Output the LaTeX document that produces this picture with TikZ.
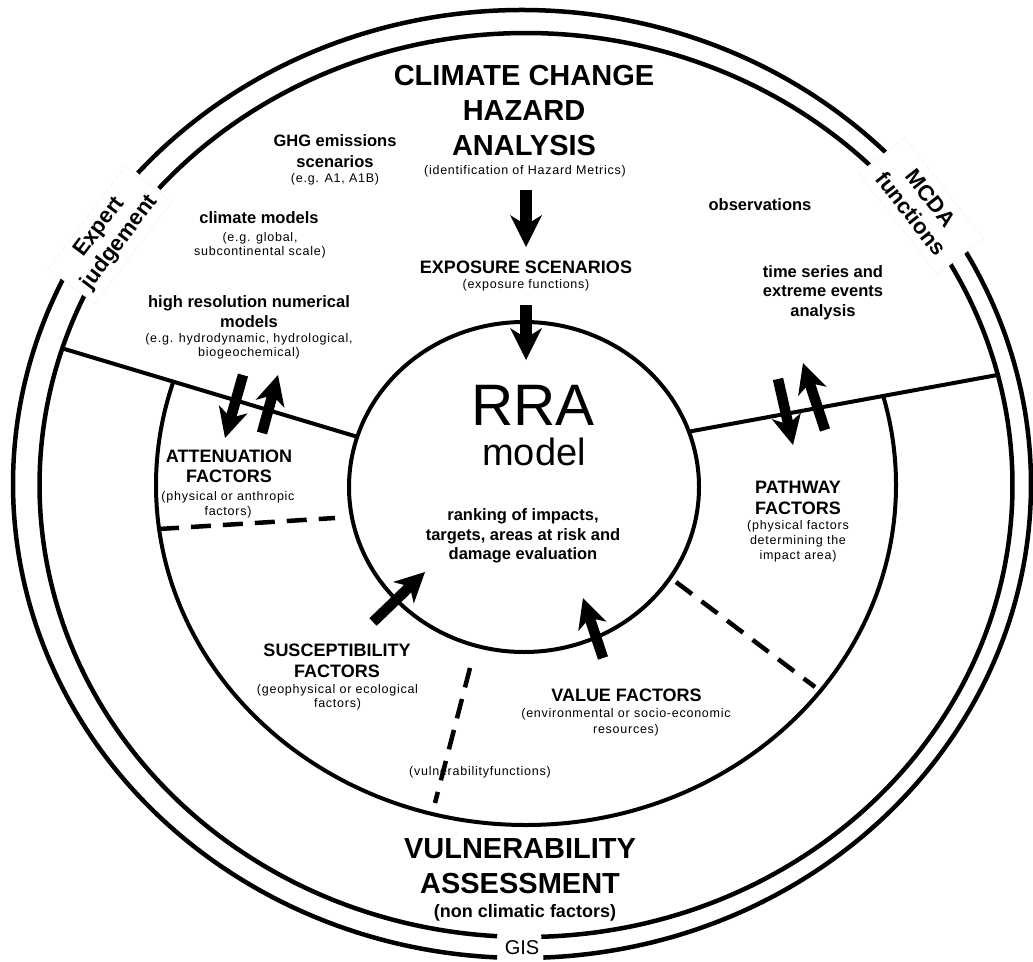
\documentclass[tikz,border=0pt]{standalone}
\usepackage{fontspec}
\setmainfont{Liberation Sans}
\newfontfamily\smallfam[LetterSpace=6]{Liberation Sans}
\usetikzlibrary{arrows.meta,calc}
\begin{document}
\begin{tikzpicture}[x=1pt,y=-1pt,
  ring/.style={line width=4.5pt},
  divline/.style={line width=4pt},
  dashline/.style={line width=4.5pt, dash pattern=on 20pt off 12pt},
  bigarrow/.style={line width=12pt, -{Stealth[length=32pt,width=32pt,inset=10pt,line width=0pt]}},
  smallarrow/.style={line width=10.5pt, -{Stealth[length=30pt,width=30pt,inset=9pt,line width=0pt]}},
  bigtxt/.style={font=\fontsize{29}{35}\selectfont\bfseries, align=center, inner sep=0pt},
  boldtxt/.style={font=\fontsize{16.5}{20}\selectfont\bfseries, align=center, inner sep=0pt},
  headtxt/.style={font=\fontsize{18}{20.5}\selectfont\bfseries, align=center, inner sep=0pt},
  smalltxt/.style={font=\smallfam\fontsize{12.5}{15}\selectfont, align=center, inner sep=0pt},
  sidetxt/.style={font=\fontsize{22}{25}\selectfont\bfseries, align=center, draw=black!5, line width=0.5pt, fill=white, minimum width=128pt, minimum height=58pt, inner sep=1pt},
]
\useasboundingbox (0,0) rectangle (1033,961);
\fill[white] (0,0) rectangle (1033,961);

% centres
\coordinate (Oc) at (522,484);
\coordinate (Sc) at (526,485);
\coordinate (Mc) at (526,485);
\coordinate (Ic) at (524,487);

% outer ring (three arcs)
\draw[ring] (Oc) ++(-44:509 and 474) arc[start angle=-44,end angle=-139,x radius=509,y radius=474];
\draw[ring] (Oc) ++(-154:509 and 474) arc[start angle=-154,end angle=-267.2,x radius=509,y radius=474];
\draw[ring] (Oc) ++(-272.4:509 and 474) arc[start angle=-272.4,end angle=-390,x radius=509,y radius=474];
% second ring
\draw[ring] (Sc) ++(-44.3:486.5 and 452) arc[start angle=-44.3,end angle=-139,x radius=486.5,y radius=452];
\draw[ring] (Sc) ++(-154.5:486.5 and 452) arc[start angle=-154.5,end angle=-266.6,x radius=486.5,y radius=452];
\draw[ring] (Sc) ++(-271.8:486.5 and 452) arc[start angle=-271.8,end angle=-390,x radius=486.5,y radius=452];

% dividing lines
\path (Sc) ++(-162.4:486.5 and 452) coordinate (Lo);
\path (Ic) ++(-162.3:175 and 165) coordinate (Li);
\path (Ic) ++(-19.6:175 and 165) coordinate (Ri);
\path (Sc) ++(-14.1:486.5 and 452) coordinate (Ro);
\draw[divline] (Lo) -- (Li);
\draw[divline] (Ri) -- (Ro);

% middle ring, only below the dividing lines
\begin{scope}
\clip (0,961) -- (0,300) -- (Lo) -- (Li) -- (Ri) -- (Ro) -- (1033,300) -- (1033,961) -- cycle;
\draw[ring, line width=4pt] (Mc) ellipse[x radius=370, y radius=340];
\end{scope}

% inner circle
\draw[ring, line width=4pt] (Ic) ellipse[x radius=175, y radius=165];

% dashed separators
\coordinate (d1a) at (159,529); \coordinate (d1b) at (335,518);
\coordinate (d2a) at (470,668); \coordinate (d2b) at (435,803);
\coordinate (d3a) at (676,582); \coordinate (d3b) at (815,687);
\draw[dashline] (d1a) -- (d1b);
\draw[dashline] (d2a) -- (d2b);
\draw[dashline] (d3a) -- (d3b);

% texts
\node[bigtxt] (title) at (524,111) {CLIMATE CHANGE\\HAZARD\\ANALYSIS};
\node[smalltxt] (idhaz) at (525,171) {(identification of Hazard Metrics)};
\node[headtxt] (expo) at (526,267) {EXPOSURE SCENARIOS};
\node[smalltxt] (expof) at (526,285) {(exposure functions)};
\node[boldtxt, font=\fontsize{16.5}{21}\selectfont\bfseries] (ghg) at (335,151.5) {GHG emissions\\scenarios};
\node[smalltxt] (ghgs) at (335,179) {(e.g. A1, A1B)};
\node[boldtxt] (clim) at (259,218) {climate models};
\node[smalltxt, font=\smallfam\fontsize{12.5}{14}\selectfont] (clims) at (260,245) {(e.g. global,\\subcontinental scale)};
\node[boldtxt] (hires) at (249,312) {high resolution numerical\\models};
\node[smalltxt, font=\smallfam\fontsize{12.5}{14.5}\selectfont] (hiress) at (249,346.5) {(e.g. hydrodynamic, hydrological,\\biogeochemical)};
\node[boldtxt] (obs) at (760,205) {observations};
\node[boldtxt, font=\fontsize{16.5}{19.5}\selectfont\bfseries] (tser) at (823,292.5) {time series and\\extreme events\\analysis};
\node[inner sep=0pt, anchor=base, font=\fontsize{58.5}{60}\selectfont] (rra) at (533,425) {RRA};
\node[inner sep=0pt, anchor=base, font=\fontsize{38}{40}\selectfont] (model) at (534,465) {model};
\node[boldtxt, font=\fontsize{16.5}{19.5}\selectfont\bfseries] (rank) at (523,536) {ranking of impacts,\\targets, areas at risk and\\damage evaluation};
\node[headtxt] (atten) at (229,466.5) {ATTENUATION\\FACTORS};
\node[smalltxt] (attens) at (228,504.5) {(physical or anthropic\\factors)};
\node[headtxt] (path) at (798,498) {PATHWAY\\FACTORS};
\node[smalltxt] (paths) at (798,541.5) {(physical factors\\determining the\\impact area)};
\node[headtxt, font=\fontsize{18}{21}\selectfont\bfseries] (susc) at (337,660.5) {SUSCEPTIBILITY\\FACTORS};
\node[smalltxt, font=\smallfam\fontsize{12.5}{14}\selectfont] (suscs) at (337.5,697) {(geophysical or ecological\\factors)};
\node[headtxt] (value) at (626.5,695) {VALUE FACTORS};
\node[smalltxt, font=\smallfam\fontsize{12.5}{16}\selectfont] (values) at (626,722) {(environmental or socio-economic\\resources)};
\node[smalltxt] (vulnf) at (480,772) {(vulnerabilityfunctions)};
\node[bigtxt] (vuln) at (520,866.5) {VULNERABILITY\\ASSESSMENT};
\node[inner sep=0pt, font=\fontsize{18}{20}\selectfont\bfseries] (nonclim) at (525,913) {(non climatic factors)};
\node[inner sep=0pt, font=\fontsize{20}{22}\selectfont] (gis) at (522,948) {GIS};
\node[sidetxt, rotate=53] (expert) at (110,235) {Expert\\judgement};
\node[sidetxt, rotate=-52] (mcda) at (921,206) {MCDA\\functions};

% arrows
\coordinate (a1t) at (526,190); \coordinate (a1h) at (526,247);
\coordinate (a2t) at (526,305); \coordinate (a2h) at (526,360);
\draw[bigarrow] (a1t) -- (a1h);
\draw[bigarrow] (a2t) -- (a2h);
\coordinate (ldt) at (243,375); \coordinate (ldh) at (225,438);
\coordinate (lut) at (262,433); \coordinate (luh) at (278,375);
\coordinate (rdt) at (778,379); \coordinate (rdh) at (793,445);
\coordinate (rut) at (825,430); \coordinate (ruh) at (803,363);
\coordinate (sut) at (373,622); \coordinate (suh) at (425,572);
\coordinate (vat) at (603,658); \coordinate (vah) at (583,598);
\draw[smallarrow] (ldt) -- (ldh);
\draw[smallarrow] (lut) -- (luh);
\draw[smallarrow] (rdt) -- (rdh);
\draw[smallarrow] (rut) -- (ruh);
\draw[smallarrow] (sut) -- (suh);
\draw[smallarrow] (vat) -- (vah);
\end{tikzpicture}
\end{document}
